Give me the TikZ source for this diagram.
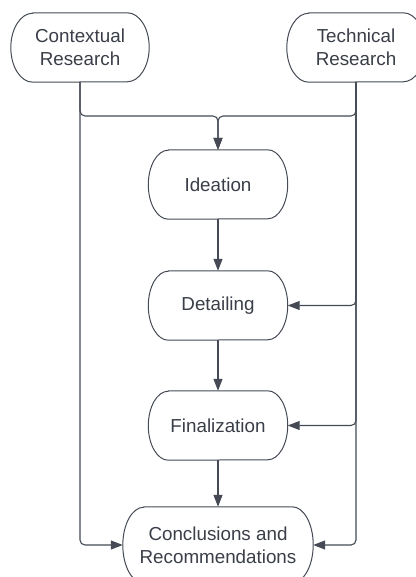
\documentclass[tikz,border=0pt]{standalone}
\usepackage{fontspec}
\setmainfont{Liberation Sans}
\usetikzlibrary{calc,arrows.meta}
\definecolor{ink}{HTML}{3A3E48}
\definecolor{edgec}{HTML}{454A55}
\begin{document}
\begin{tikzpicture}[x=1pt,y=-1pt,
  term/.style={draw=none,text=ink,align=center,inner sep=0pt,
    font=\fontsize{18.8pt}{23pt}\selectfont},
  boxline/.style={draw=edgec,line width=1pt},
  conn/.style={draw=edgec,line width=1.1pt,rounded corners=5pt,
    -{Triangle[length=12pt,width=9pt]}}]
\newcommand\termoutline[3]{%
  \draw[boxline] ($(#1.north west)+(#2,0)$) -- ($(#1.north east)+(-#2,0)$)
    arc[start angle=90,end angle=-90,x radius=#2pt,y radius=#3pt]
    -- ($(#1.south west)+(#2,0)$)
    arc[start angle=270,end angle=90,x radius=#2pt,y radius=#3pt] -- cycle;}
\useasboundingbox (0,0) rectangle (415,577);
\fill[white] (0,0) rectangle (415,577);
\node[term,minimum width=138pt,minimum height=69pt] (ctx) at (80,47.5) {Contextual\\Research};
\node[term,minimum width=138pt,minimum height=69pt] (tech) at (356,47.5) {Technical\\Research};
\node[term,minimum width=139pt,minimum height=69pt] (idea) at (218,184.5) {Ideation};
\node[term,minimum width=139pt,minimum height=69pt] (detail) at (218,305.5) {Detailing};
\node[term,minimum width=139pt,minimum height=69pt] (final) at (218,425.5) {Finalization};
\node[term,minimum width=190pt,minimum height=76pt] (concl) at (218,545) {Conclusions and\\Recommendations};
\termoutline{ctx}{22}{34.5}
\termoutline{tech}{22}{34.5}
\termoutline{idea}{20}{34.5}
\termoutline{detail}{20}{34.5}
\termoutline{final}{20}{34.5}
\termoutline{concl}{21}{38}
\coordinate (j) at (idea.north |- 0,116);
\draw[conn] (ctx.south) |- (j) -- (idea.north);
\draw[conn] (tech.south) |- (j) -- (idea.north);
\draw[conn] (idea.south) -- (detail.north);
\draw[conn] (detail.south) -- (final.north);
\draw[conn] (final.south) -- (concl.north);
\draw[conn] (tech.south) |- (detail.east);
\draw[conn] (tech.south) |- (final.east);
\draw[conn] (tech.south) |- (concl.east);
\draw[conn] (ctx.south) |- (concl.west);
\end{tikzpicture}
\end{document}
